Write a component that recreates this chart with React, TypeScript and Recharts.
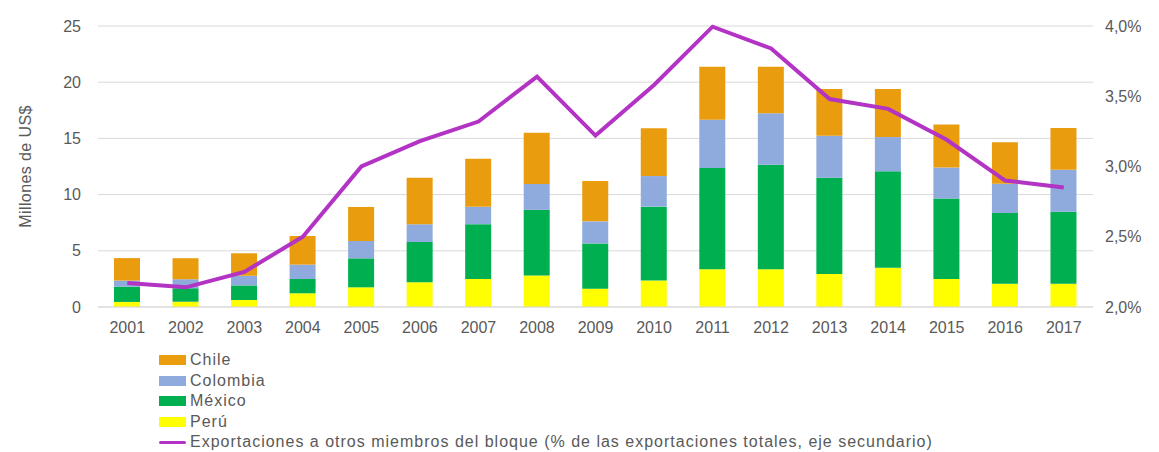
import { Bar, CartesianGrid, ComposedChart, Line, XAxis, YAxis } from "recharts";

const years = ["2001", "2002", "2003", "2004", "2005", "2006", "2007", "2008", "2009", "2010", "2011", "2012", "2013", "2014", "2015", "2016", "2017"];
const peru = [0.45, 0.47, 0.62, 1.22, 1.75, 2.2, 2.5, 2.8, 1.63, 2.35, 3.35, 3.35, 2.94, 3.5, 2.5, 2.07, 2.07];
const mexico = [1.35, 1.2, 1.3, 1.27, 2.58, 3.58, 4.87, 5.84, 4.03, 6.58, 9.02, 9.31, 8.56, 8.57, 7.15, 6.29, 6.41];
const colombia = [0.55, 0.8, 0.86, 1.28, 1.54, 1.58, 1.54, 2.31, 1.96, 2.72, 4.29, 4.57, 3.74, 3.05, 2.76, 2.61, 3.74];
const chile = [2.0, 1.87, 2.0, 2.55, 3.03, 4.14, 4.29, 4.56, 3.58, 4.25, 4.72, 4.15, 4.16, 4.28, 3.82, 3.68, 3.71];
const share = [2.17, 2.14, 2.25, 2.5, 3.0, 3.18, 3.32, 3.64, 3.22, 3.58, 3.995, 3.84, 3.48, 3.41, 3.19, 2.9, 2.85];

const leftTicks = [0, 5, 10, 15, 20, 25];
const rightTicks = [2.0, 2.5, 3.0, 3.5, 4.0];

const data = years.map((year, i) => ({
  year,
  peru: peru[i],
  mexico: mexico[i],
  colombia: colombia[i],
  chile: chile[i],
  share: share[i],
}));

const FONT = "'Liberation Sans', Arial, sans-serif";
const TEXT = "#595959";
const GRID = "#d9d9d9";

const legendItems = [
  { name: "Chile", color: "#e99c0e", line: false },
  { name: "Colombia", color: "#8faadc", line: false },
  { name: "México", color: "#00b050", line: false },
  { name: "Perú", color: "#ffff00", line: false },
  { name: "Exportaciones a otros miembros del bloque (% de las exportaciones totales, eje secundario)", color: "#b233c4", line: true },
];

function AxisTitle(props: any) {
  const { viewBox } = props;
  const cx = 17;
  const cy = viewBox.y + viewBox.height / 2;
  return (
    <text x={cx} y={cy} transform={`rotate(-90 ${cx} ${cy})`} textAnchor="middle" dominantBaseline="central" fill={TEXT} fontSize={16} fontFamily={FONT} letterSpacing={0.4}>
      Millones de US$
    </text>
  );
}

export default function App() {
  const tick = { fill: TEXT, fontSize: 16, fontFamily: FONT };
  return (
    <div style={{ position: "relative", width: 1151, height: 444, fontFamily: FONT }}>
      <ComposedChart width={1151} height={335} data={data} margin={{ top: 18, right: 0, left: 0, bottom: 0 }}>
        <CartesianGrid vertical={false} stroke={GRID} yAxisId="left" />
        <XAxis dataKey="year" tickLine={false} axisLine={{ stroke: GRID }} tick={tick} tickSize={0} tickMargin={15} height={36} interval={0} />
        <YAxis yAxisId="left" domain={[0, 25]} ticks={leftTicks} tickLine={false} axisLine={false} tick={tick} tickSize={0} tickMargin={17} width={90} label={<AxisTitle />} />
        <YAxis
          yAxisId="right"
          orientation="right"
          domain={[2, 4]}
          ticks={rightTicks}
          tickLine={false}
          axisLine={false}
          tick={{ ...tick, textAnchor: "start" }}
          tickSize={0}
          tickMargin={12}
          width={66}
          tickFormatter={(v) => `${Number(v).toFixed(1).replace(".", ",")}%`}
        />
        <Bar yAxisId="left" dataKey="peru" stackId="a" fill="#ffff00" barSize={26} isAnimationActive={false} />
        <Bar yAxisId="left" dataKey="mexico" stackId="a" fill="#00b050" barSize={26} isAnimationActive={false} />
        <Bar yAxisId="left" dataKey="colombia" stackId="a" fill="#8faadc" barSize={26} isAnimationActive={false} />
        <Bar yAxisId="left" dataKey="chile" stackId="a" fill="#e99c0e" barSize={26} isAnimationActive={false} />
        <Line yAxisId="right" type="linear" dataKey="share" stroke="#b233c4" strokeWidth={4} dot={false} isAnimationActive={false} />
      </ComposedChart>
      <div style={{ position: "absolute", left: 151, top: 342 }}>
        {legendItems.map((item) => (
          <div key={item.name} style={{ display: "flex", alignItems: "center", height: 20.5, color: TEXT, fontSize: 16, letterSpacing: 1, whiteSpace: "nowrap" }}>
            <span
              style={{
                display: "inline-block",
                width: 27,
                height: item.line ? 3 : 10,
                background: item.color,
                borderRadius: item.line ? 2 : 0,
                marginRight: 4,
              }}
            />
            {item.name}
          </div>
        ))}
      </div>
    </div>
  );
}
